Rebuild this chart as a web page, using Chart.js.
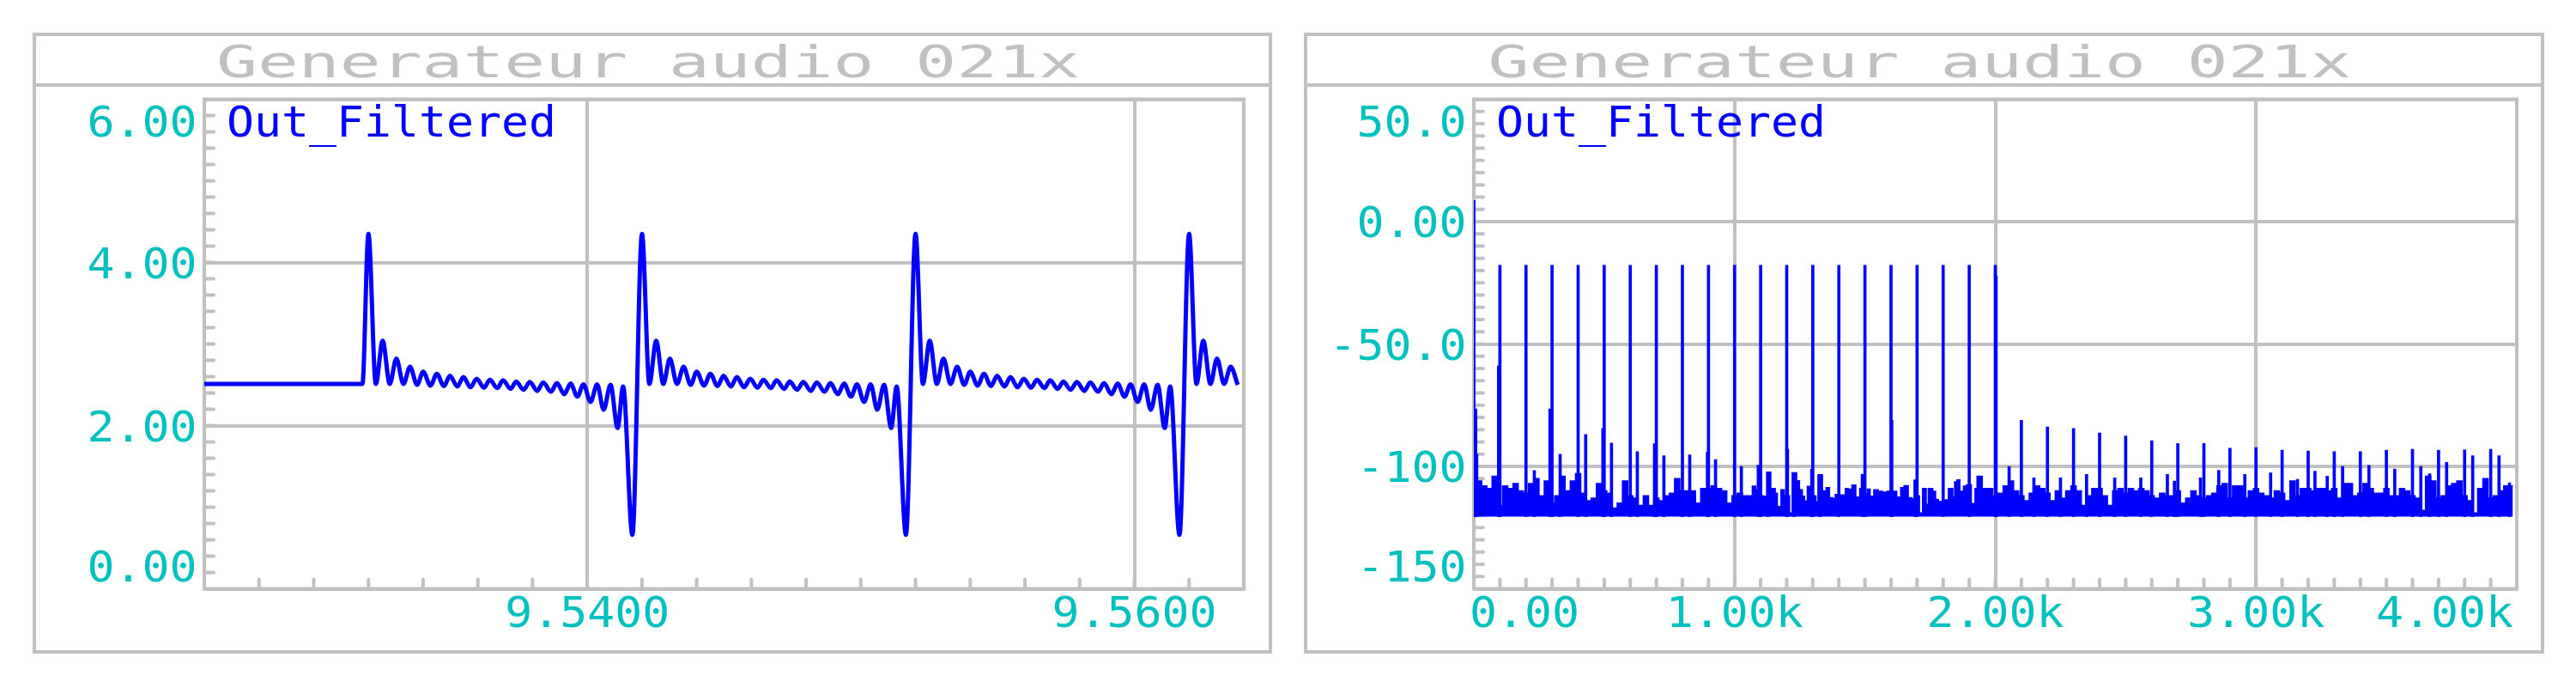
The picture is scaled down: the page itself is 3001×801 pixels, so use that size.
<!DOCTYPE html>
<html lang="en">
<head>
<meta charset="UTF-8">
<title>Generateur audio 021x</title>
<style>
  html, body { margin: 0; padding: 0; background: #ffffff; }
  body { width: 3001px; height: 801px; position: relative; overflow: hidden; }
  canvas { position: absolute; top: 0; }
  #timeChart { left: 0; }
  #fftChart { left: 1500px; }
</style>
</head>
<body>
<canvas id="timeChart" width="1500" height="801"></canvas>
<canvas id="fftChart" width="1501" height="801"></canvas>

<script src="https://cdn.jsdelivr.net/npm/chart.js@4"></script>
<script>
// ---- data: time trace (seconds, volts) ----
const waveTimeS = [
  9.52600, 9.53178,
  9.53200, 9.53227, 9.53252, 9.53278, 9.53302, 9.53328, 9.53352, 9.53378, 9.53400, 9.53427,
  9.53450, 9.53476, 9.53498, 9.53525, 9.53547, 9.53573, 9.53596, 9.53622, 9.53644, 9.53671,
  9.53692, 9.53720, 9.53740, 9.53767, 9.53790, 9.53817, 9.53839, 9.53867, 9.53889, 9.53916,
  9.53939, 9.53964, 9.53986, 9.54012, 9.54036, 9.54060, 9.54085, 9.54111, 9.54131, 9.54165,
  9.54200, 9.54227, 9.54252, 9.54278, 9.54302, 9.54328, 9.54352, 9.54378, 9.54400, 9.54427,
  9.54450, 9.54476, 9.54498, 9.54525, 9.54547, 9.54573, 9.54596, 9.54622, 9.54644, 9.54671,
  9.54692, 9.54720, 9.54740, 9.54767, 9.54790, 9.54817, 9.54839, 9.54867, 9.54889, 9.54916,
  9.54939, 9.54964, 9.54986, 9.55012, 9.55036, 9.55060, 9.55085, 9.55111, 9.55131, 9.55165,
  9.55200, 9.55227, 9.55252, 9.55278, 9.55302, 9.55328, 9.55352, 9.55378, 9.55400, 9.55427,
  9.55450, 9.55476, 9.55498, 9.55525, 9.55547, 9.55573, 9.55596, 9.55622, 9.55644, 9.55671,
  9.55692, 9.55720, 9.55740, 9.55767, 9.55790, 9.55817, 9.55839, 9.55867, 9.55889, 9.55916,
  9.55939, 9.55964, 9.55986, 9.56012, 9.56036, 9.56060, 9.56085, 9.56111, 9.56131, 9.56165,
  9.56200, 9.56227, 9.56252, 9.56278, 9.56302, 9.56328, 9.56352, 9.56378
];
const waveVolts = [
  2.51, 2.51,
  4.35, 2.51, 3.04, 2.51, 2.82, 2.51, 2.72, 2.50, 2.66, 2.49,
  2.635, 2.485, 2.61, 2.48, 2.595, 2.47, 2.575, 2.465, 2.56, 2.46,
  2.555, 2.45, 2.54, 2.44, 2.535, 2.425, 2.53, 2.415, 2.52, 2.385,
  2.515, 2.355, 2.505, 2.29, 2.505, 2.195, 2.50, 1.97, 2.48, 0.66,
  4.35, 2.51, 3.04, 2.51, 2.82, 2.51, 2.72, 2.50, 2.66, 2.49,
  2.635, 2.485, 2.61, 2.48, 2.595, 2.47, 2.575, 2.465, 2.56, 2.46,
  2.555, 2.45, 2.54, 2.44, 2.535, 2.425, 2.53, 2.415, 2.52, 2.385,
  2.515, 2.355, 2.505, 2.29, 2.505, 2.195, 2.50, 1.97, 2.48, 0.66,
  4.35, 2.51, 3.04, 2.51, 2.82, 2.51, 2.72, 2.50, 2.66, 2.49,
  2.635, 2.485, 2.61, 2.48, 2.595, 2.47, 2.575, 2.465, 2.56, 2.46,
  2.555, 2.45, 2.54, 2.44, 2.535, 2.425, 2.53, 2.415, 2.52, 2.385,
  2.515, 2.355, 2.505, 2.29, 2.505, 2.195, 2.50, 1.97, 2.48, 0.66,
  4.35, 2.51, 3.04, 2.51, 2.82, 2.51, 2.72, 2.50
];

// ---- data: spectrum (Hz, dB) ----
const harmonicHz = [
  0, 100, 200, 300, 400, 500, 600, 700, 800, 900, 1000, 1100, 1200, 1300, 1400, 1500, 1600, 1700, 1800, 1900, 2000,
  2100, 2200, 2300, 2400, 2500, 2600, 2700, 2800, 2900, 3000, 3100, 3200, 3300, 3400, 3500, 3600, 3700, 3800, 3900
];
const harmonicDb = [
  8.7, -17.8, -17.8, -17.8, -17.8, -17.8, -17.8, -17.8, -17.8, -17.8, -17.8,
  -17.8, -17.8, -17.8, -17.8, -17.8, -17.8, -17.8, -17.8, -17.8, -17.8,
  -81.2, -83.9, -84.5, -86.3, -87.6, -89.5, -90.6, -90.6, -92.6, -92.3,
  -93.4, -93.7, -94.0, -94.0, -93.4, -93.0, -93.4, -93.3, -93.0
];
const spurHz = [
  232, 331, 429, 528, 627, 729, 828, 927, 1026, 1129, 1228, 1327,
  2053, 2148, 2250, 2350, 2458, 2558, 2660, 2687, 2787, 2857, 2957, 3056,
  3159, 3226, 3273, 3332, 3433, 3532, 3632, 3666, 3731, 3831, 3932, 3972
];
const spurDb = [
  -101.7, -95.0, -87.0, -90.5, -94.0, -95.6, -95.3, -97.2, -100.0, -102.3, -102.7, -103.3,
  -100.0, -104.7, -104.7, -103.3, -104.7, -104.7, -103.3, -106.0, -104.7, -101.6, -103.3, -102.7,
  -105.3, -102.0, -104.0, -100.0, -99.6, -101.1, -100.0, -103.0, -98.4, -95.6, -95.6, -106.7
];
const shoulderHz = [7, 11, 95, 292, 495, 693, 896, 1091, 1203, 1296, 1490, 1603, 1692, 2003];
const shoulderDb = [-76.5, -95.0, -59.0, -76.5, -84.5, -90.7, -94.2, -99.5, -93.0, -101.2, -103.2, -81.2, -105.5, -22.1];

// noise floor: start frequency of each flat step and its top level
const noiseStartHz = [
  0, 10, 30, 50, 70, 90, 110, 130, 150, 170, 190, 210, 230, 250, 270, 290, 310, 330, 350, 370,
  390, 410, 430, 450, 470, 490, 510, 530, 550, 570, 590, 610, 630, 650, 670, 690, 710, 730, 750, 770,
  790, 810, 830, 850, 870, 890, 910, 930, 950, 970, 990, 1010, 1030, 1050,
  1068, 1081, 1089, 1110, 1123, 1139, 1156, 1164, 1178, 1191, 1211, 1221, 1238, 1249, 1260, 1268,
  1279, 1292, 1312, 1320, 1337, 1351, 1364, 1377, 1386, 1394, 1425, 1436, 1450, 1465, 1480, 1491,
  1509, 1520, 1534, 1551, 1567, 1584, 1608, 1622, 1637, 1650, 1666, 1681, 1692, 1709, 1721, 1735,
  1743, 1760, 1771, 1782, 1804, 1820, 1837, 1844, 1853, 1864, 1878, 1889, 1908, 1922,
  1930, 1950, 1970, 1990, 2010, 2030, 2050, 2070, 2090, 2110, 2130, 2150, 2170, 2190, 2210, 2230,
  2250, 2270, 2290, 2310, 2330, 2350, 2370, 2390, 2410, 2430, 2450, 2470, 2490, 2510, 2530, 2550,
  2570, 2590, 2610, 2630, 2650, 2670, 2690, 2710, 2730, 2750, 2770, 2790, 2810, 2830, 2850, 2870,
  2890, 2910, 2930, 2950, 2970, 2990, 3010, 3030, 3050, 3070, 3090, 3110, 3130, 3150, 3170, 3190,
  3210, 3230, 3250, 3270, 3290, 3310, 3330, 3350, 3370, 3390, 3410, 3430, 3450, 3470, 3490, 3510,
  3530, 3550, 3570, 3590, 3610, 3630, 3650, 3670, 3690, 3710, 3730, 3750, 3770, 3790, 3810, 3830,
  3850, 3870, 3890, 3910, 3930, 3950, 3970, 3985
];
const noiseTopDb = [
  -110, -106, -108, -109, -104, -116, -108, -109, -107, -110, -111, -107, -105, -112, -106, -115, -112, -104, -110, -106,
  -103, -111, -114, -113, -107, -110, -111, -117, -115, -106, -112, -113, -116, -112, -116, -113, -114, -112, -111, -105,
  -110, -110, -110, -115, -109, -109, -108, -109, -110, -115, -112, -111, -112, -112,
  -108.1, -109.6, -112.0, -112.2, -102.4, -109.0, -111.0, -116.4, -109.6, -112.0, -119.0, -102.6, -105.9, -109.6, -112.2, -114.1,
  -108.2, -112.0, -114.5, -103.4, -110.0, -108.7, -112.8, -113.1, -111.5, -111.7, -109.0, -109.3, -107.6, -112.5, -109.0, -111.0,
  -109.3, -112.2, -109.6, -110.2, -110.5, -110.2, -110.2, -112.5, -108.7, -107.9, -112.8, -113.4, -112.0, -119.0, -109.0, -115.5,
  -109.0, -110.2, -113.5, -114.3, -113.7, -109.0, -112.5, -106.3, -105.5, -110.2, -108.1, -107.5, -115.2, -109.0,
  -104, -109, -109, -112, -111, -108, -106, -110, -112, -114, -111, -108, -109, -111, -114, -110,
  -113, -110, -108, -110, -116, -112, -109, -109, -112, -116, -110, -109, -111, -109, -110, -109,
  -110, -112, -113, -111, -112, -112, -110, -115, -113, -110, -112, -113, -112, -111, -108, -107,
  -113, -108, -108, -113, -110, -109, -111, -112, -113, -110, -111, -114, -106, -112, -109, -109,
  -110, -109, -109, -110, -109, -113, -107, -107, -112, -111, -107, -109, -111, -111, -109, -112,
  -112, -109, -110, -112, -113, -118, -104, -106, -113, -112, -108, -107, -106, -112, -114, -119,
  -109, -105, -113, -112, -110, -108, -108, -108
];
const floorDb = -120.5;

// ---- axes ----
const timeXTicks = [9.54, 9.56];
const timeXLabels = ['9.5400', '9.5600'];
const timeYTicks = [0, 2, 4, 6];
const timeYLabels = ['0.00', '2.00', '4.00', '6.00'];
const fftXTicks = [0, 1000, 2000, 3000, 4000];
const fftXLabels = ['0.00', '1.00k', '2.00k', '3.00k', '4.00k'];
const fftYTicks = [-150, -100, -50, 0, 50];
const fftYLabels = ['-150', '-100', '-50.0', '0.00', '50.0'];

const GRAY = '#c0c0c0';
const CYAN = '#00c0c0';
const BLUE = '#0000ff';
const FONT = '"DejaVu Sans Mono", "Liberation Mono", monospace';

// draw text with a horizontal stretch, like the plotter font
function plotText(ctx, str, x, baseline, align, size, sx, color) {
  ctx.save();
  ctx.font = size + 'px ' + FONT;
  ctx.fillStyle = color;
  ctx.textBaseline = 'alphabetic';
  ctx.textAlign = 'left';
  const w = ctx.measureText(str).width * sx;
  const left = align === 'left' ? x : align === 'right' ? x - w : x - w / 2;
  ctx.translate(left, baseline);
  ctx.scale(sx, 1);
  ctx.fillText(str, 0, 0);
  ctx.restore();
}

function textWidth(ctx, str, size, sx) {
  ctx.save();
  ctx.font = size + 'px ' + FONT;
  const w = ctx.measureText(str).width * sx;
  ctx.restore();
  return w;
}

const plotterPlugin = {
  id: 'plotter',
  beforeDraw(chart, args, o) {
    const ctx = chart.ctx;
    const f = o.frame;
    ctx.save();
    ctx.fillStyle = '#ffffff';
    ctx.fillRect(0, 0, chart.width, chart.height);
    ctx.strokeStyle = GRAY;
    ctx.lineWidth = 4;
    ctx.strokeRect(f.left, f.top, f.right - f.left, f.bottom - f.top);
    ctx.beginPath();
    ctx.moveTo(f.left, f.sep);
    ctx.lineTo(f.right, f.sep);
    ctx.stroke();
    ctx.restore();
    plotText(ctx, o.title, (f.left + f.right) / 2 - 5, 90, 'center', 52, 1.53, GRAY);
  },
  beforeDatasetsDraw(chart, args, o) {
    const {ctx, chartArea: a, scales: {x, y}} = chart;
    ctx.save();
    ctx.strokeStyle = GRAY;
    ctx.lineWidth = 4;
    ctx.strokeRect(a.left, a.top, a.right - a.left, a.bottom - a.top);
    // minor ticks on the left and bottom border
    ctx.lineCap = 'round';
    ctx.beginPath();
    const ny = Math.round((y.max - y.min) / o.yMinor);
    for (let i = 1; i < ny; i++) {
      const p = y.getPixelForValue(y.min + i * o.yMinor);
      ctx.moveTo(a.left, p);
      ctx.lineTo(a.left + 11, p);
    }
    const first = Math.ceil((x.min + 1e-9) / o.xMinor);
    const last = Math.floor((x.max - 1e-9) / o.xMinor);
    for (let k = first; k <= last; k++) {
      const p = x.getPixelForValue(k * o.xMinor);
      ctx.moveTo(p, a.bottom);
      ctx.lineTo(p, a.bottom - 11);
    }
    ctx.stroke();
    ctx.restore();
  },
  afterDraw(chart, args, o) {
    const {ctx, chartArea: a, scales: {x, y}} = chart;
    const size = 50, sx = 1.063, cap = 36.5;
    o.yTicks.forEach((v, i) => {
      let c = y.getPixelForValue(v);
      c = Math.min(Math.max(c, a.top + 25.5), a.bottom - 26.5);
      plotText(ctx, o.yLabels[i], a.left - 8.5, c + cap / 2, 'right', size, sx, CYAN);
    });
    o.xTicks.forEach((v, i) => {
      const p = x.getPixelForValue(v);
      const w = textWidth(ctx, o.xLabels[i], size, sx);
      let left = p - w / 2;
      if (left < a.left - 5) left = a.left - 5;
      if (left + w > a.right - 4) left = a.right - 4 - w;
      plotText(ctx, o.xLabels[i], left, a.bottom + 44.5, 'left', size, sx, CYAN);
    });
    plotText(ctx, o.legend, a.left + 26, a.top + 43.5, 'left', size, sx, BLUE);
  }
};

function axes(xMin, xMax, xTicks, yMin, yMax, yTicks) {
  const grid = { color: GRAY, lineWidth: 4, drawTicks: false, offset: false };
  return {
    x: {
      type: 'linear', min: xMin, max: xMax, offset: false,
      afterBuildTicks: s => { s.ticks = xTicks.map(v => ({ value: v })); },
      afterFit: s => { s.height = 0; },
      ticks: { display: false }, grid, border: { display: false }
    },
    y: {
      type: 'linear', min: yMin, max: yMax,
      afterBuildTicks: s => { s.ticks = yTicks.map(v => ({ value: v })); },
      afterFit: s => { s.width = 0; },
      ticks: { display: false }, grid, border: { display: false }
    }
  };
}

// ---- left: time trace ----
new Chart(document.getElementById('timeChart'), {
  type: 'line',
  data: {
    datasets: [{
      label: 'Out_Filtered',
      data: waveTimeS.map((t, i) => ({ x: t, y: waveVolts[i] })),
      borderColor: BLUE,
      borderWidth: 5,
      pointRadius: 0,
      cubicInterpolationMode: 'monotone',
      fill: false
    }]
  },
  options: {
    responsive: false, animation: false, devicePixelRatio: 1,
    layout: { padding: { left: 238, top: 115.5, right: 51, bottom: 115.5 } },
    scales: axes(9.526, 9.564, timeXTicks, 0, 6, timeYTicks),
    plugins: {
      legend: { display: false }, tooltip: { enabled: false },
      plotter: {
        frame: { left: 40, right: 1480, top: 40, bottom: 759, sep: 99 },
        title: 'Generateur audio 021x', legend: 'Out_Filtered',
        xTicks: timeXTicks, xLabels: timeXLabels, yTicks: timeYTicks, yLabels: timeYLabels,
        xMinor: 0.002, yMinor: 0.2
      }
    }
  },
  plugins: [plotterPlugin]
});

// ---- right: spectrum ----
const spikes = [];
harmonicHz.forEach((f, i) => spikes.push({ x: f, y: [floorDb, harmonicDb[i]] }));
spurHz.forEach((f, i) => spikes.push({ x: f, y: [floorDb, spurDb[i]] }));
shoulderHz.forEach((f, i) => spikes.push({ x: f, y: [floorDb, shoulderDb[i]] }));
spikes.sort((a, b) => a.x - b.x);

new Chart(document.getElementById('fftChart'), {
  type: 'bar',
  data: {
    datasets: [{
      type: 'bar',
      label: 'Out_Filtered',
      data: spikes,
      backgroundColor: BLUE,
      borderWidth: 0,
      barThickness: 3,
      grouped: false,
      order: 1
    }, {
      type: 'line',
      label: 'noise',
      data: noiseStartHz.map((f, i) => ({ x: f, y: noiseTopDb[i] })),
      borderColor: BLUE,
      backgroundColor: BLUE,
      borderWidth: 1.5,
      pointRadius: 0,
      stepped: 'before',
      fill: { value: floorDb },
      order: 2
    }]
  },
  options: {
    responsive: false, animation: false, devicePixelRatio: 1,
    layout: { padding: { left: 217, top: 115.5, right: 69, bottom: 115.5 } },
    scales: axes(0, 4000, fftXTicks, -150, 50, fftYTicks),
    plugins: {
      legend: { display: false }, tooltip: { enabled: false },
      plotter: {
        frame: { left: 21, right: 1462, top: 40, bottom: 759, sep: 99 },
        title: 'Generateur audio 021x', legend: 'Out_Filtered',
        xTicks: fftXTicks, xLabels: fftXLabels, yTicks: fftYTicks, yLabels: fftYLabels,
        xMinor: 100, yMinor: 5
      }
    }
  },
  plugins: [plotterPlugin]
});
</script>
</body>
</html>
